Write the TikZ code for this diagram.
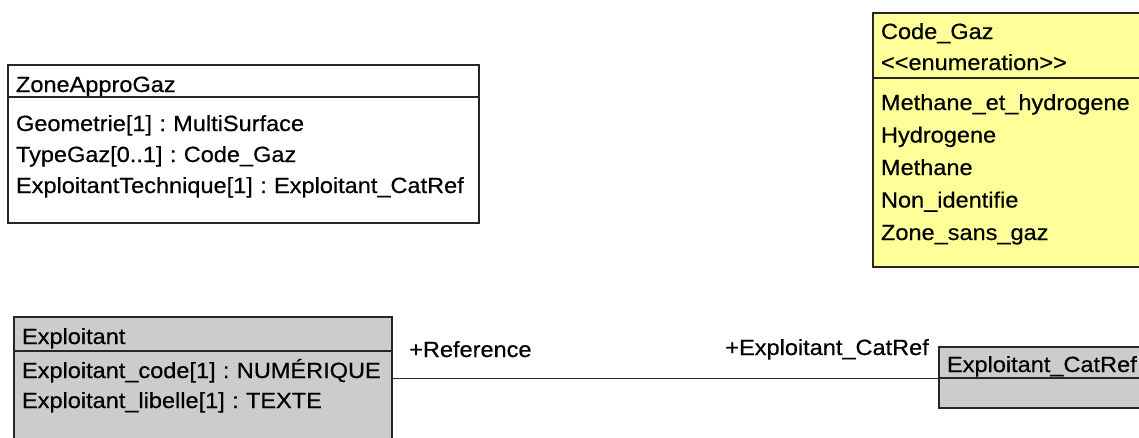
\documentclass[tikz,border=0pt]{standalone}
\usepackage{fontspec}
\setmainfont[FakeStretch=1.07, FakeBold=0.5]{Liberation Sans}
\usetikzlibrary{positioning}
\definecolor{enumyellow}{RGB}{255,255,153}
\definecolor{classgray}{RGB}{204,204,204}

\begin{document}
\begin{tikzpicture}[x=1pt, y=-1pt,
  every node/.style={font=\fontsize{22}{31}\selectfont, execute at begin node=\frenchspacing},
  cls/.style={draw=black!85, line width=1.2pt, anchor=north west, align=left,
    inner xsep=8pt, inner ysep=0pt, outer sep=0pt},
  role/.style={inner sep=0pt},
  assoc/.style={draw=black!85, line width=1pt}]
  \useasboundingbox (0,0) rectangle (1139,437);
  \clip (0,0) rectangle (1139,437);

  \node[cls, fill=white, text width=455pt, text height=27pt, text depth=5pt] (zagh) at (8,65) {ZoneApproGaz};
  \node[cls, fill=white, text width=455pt, text height=34pt, text depth=92pt,
    below right=0pt of zagh.south west] (zagb)
    {Geometrie[1] : MultiSurface\\TypeGaz[0..1] : Code\_Gaz\\ExploitantTechnique[1] : Exploitant\_CatRef};

  \node[cls, fill=enumyellow, text width=261pt, text height=26pt, text depth=39pt] (cgh) at (873,13)
    {Code\_Gaz\\<{}<enumeration>{}>};
  \node[cls, fill=enumyellow, text width=261pt, text height=32pt, text depth=157pt,
    font=\fontsize{22}{32.5}\selectfont, below right=0pt of cgh.south west] (cgb)
    {Methane\_et\_hydrogene\\Hydrogene\\Methane\\Non\_identifie\\Zone\_sans\_gaz};

  \node[cls, fill=classgray, text width=362pt, text height=27pt, text depth=7pt] (exph) at (14,317) {Exploitant};
  \node[cls, fill=classgray, text width=362pt, text height=27pt, text depth=100pt,
    font=\fontsize{22}{30}\selectfont, below right=0pt of exph.south west] (expb)
    {Exploitant\_code[1] : NUMÉRIQUE\\Exploitant\_libelle[1] : TEXTE};

  \node[cls, fill=classgray, text width=195pt, text height=25pt, text depth=6pt] (crh) at (939,347) {Exploitant\_CatRef};
  \node[cls, fill=classgray, text width=195pt, text height=0pt, text depth=30pt,
    below right=0pt of crh.south west] (crb) {};

  \draw[assoc] (expb.north east |- crh.south west) -- (crh.south west);
  \node[role, anchor=base west] (refsrc) at (409,357) {+Reference};
  \node[role, anchor=base east] (reftgt) at (929,355) {+Exploitant\_CatRef};
\end{tikzpicture}
\end{document}
